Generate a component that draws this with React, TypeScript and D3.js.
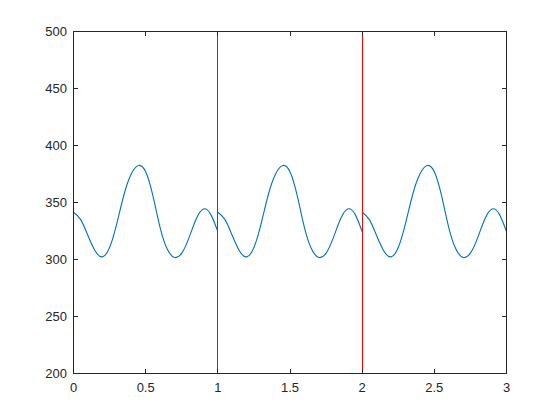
import React from "react";
import * as d3 from "d3";

// one cycle of the signal at steps of 0.05
const cycleT = [0, 0.05, 0.1, 0.15, 0.2, 0.25, 0.3, 0.35, 0.4, 0.45, 0.5, 0.55, 0.6, 0.65, 0.7, 0.75, 0.8, 0.85, 0.9, 0.95, 1];
const cycleValues = [341.5, 335, 321, 307.5, 302.3, 310.5, 331.5, 357, 375, 382.5, 377, 356, 328, 309, 301.8, 305.6, 319, 335.5, 344.3, 339.8, 324.5];
// the cycle is repeated at these starts
const cycleStarts = [0, 1, 2];
// red markers
const markerX = [1, 2];

const xTicks = [0, 0.5, 1, 1.5, 2, 2.5, 3];
const yTicks = [200, 250, 300, 350, 400, 450, 500];

const W = 560;
const H = 420;
const left = 73.5, right = 506.5, top = 31.5, bottom = 373.5;
const axisColor = "#262626";
const tickLen = 4.5;
const font = "'Liberation Sans', Arial, Helvetica, sans-serif";

export default function App() {
  const x = d3.scaleLinear().domain([0, 3]).range([left, right]);
  const y = d3.scaleLinear().domain([200, 500]).range([bottom, top]);

  const line = d3
    .line<[number, number]>()
    .x((d) => x(d[0]))
    .y((d) => y(d[1]))
    .curve(d3.curveNatural);

  const snap = (v: number) => Math.floor(v) + 0.5;

  return (
    <svg
      width={W}
      height={H}
      style={{ position: "absolute", left: 0, top: 0, background: "#fff" }}
    >
      <rect x={0} y={0} width={W} height={H} fill="#fff" />

      {/* signal */}
      {cycleStarts.map((s) => (
        <path
          key={s}
          d={line(cycleT.map((t, i) => [s + t, cycleValues[i]] as [number, number])) || ""}
          fill="none"
          stroke="#0072BD"
          strokeWidth={1.1}
        />
      ))}

      {/* red vertical markers */}
      {markerX.map((m) => (
        <line key={m} x1={snap(x(m))} x2={snap(x(m))} y1={top} y2={bottom} stroke="#FF0000" strokeWidth={1} />
      ))}

      {/* box */}
      <rect x={left} y={top} width={right - left} height={bottom - top} fill="none" stroke={axisColor} strokeWidth={1} />

      {/* x ticks */}
      {xTicks.map((t) => {
        const px = snap(x(t));
        return (
          <g key={"x" + t}>
            <line x1={px} x2={px} y1={bottom} y2={bottom - tickLen} stroke={axisColor} />
            <line x1={px} x2={px} y1={top} y2={top + tickLen} stroke={axisColor} />
            <text x={x(t)} y={392} textAnchor="middle" fontFamily={font} fontSize={13} fill={axisColor}>
              {t}
            </text>
          </g>
        );
      })}

      {/* y ticks */}
      {yTicks.map((t) => {
        const py = snap(y(t));
        return (
          <g key={"y" + t}>
            <line x1={left} x2={left + tickLen} y1={py} y2={py} stroke={axisColor} />
            <line x1={right} x2={right - tickLen} y1={py} y2={py} stroke={axisColor} />
            <text x={67} y={y(t)} dy="0.35em" textAnchor="end" fontFamily={font} fontSize={13} fill={axisColor}>
              {t}
            </text>
          </g>
        );
      })}
    </svg>
  );
}
